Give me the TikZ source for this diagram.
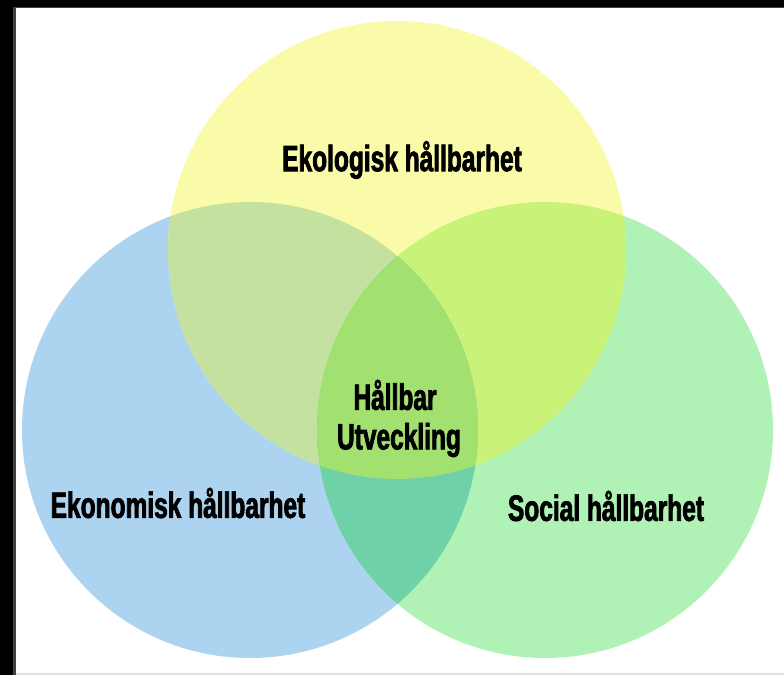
\documentclass[tikz,border=0pt]{standalone}
\usepackage{fontspec}
\usepackage{xcolor}
\usepackage{tikz}
\newfontfamily\vennfont[FakeStretch=0.67,FakeBold=2]{Liberation Sans}
\definecolor{ekogul}{HTML}{FAFBA8}
\definecolor{ekoblå}{HTML}{ACD3EF}
\definecolor{sogrön}{HTML}{B0F2B6}
\definecolor{gulblå}{HTML}{C4E1A0}
\definecolor{gulgrön}{HTML}{C8F278}
\definecolor{blågrön}{HTML}{6FD1A8}
\definecolor{mitten}{HTML}{A2E070}
\def\ekoC{(397,250) circle (229)}
\def\ekonC{(250,430) circle (228)}
\def\socC{(545,430) circle (228)}

\begin{document}
\begin{tikzpicture}[x=0.025cm,y=-0.025cm,
  lbl/.style={text=black,font=\vennfont\bfseries\fontsize{26}{28}\selectfont,align=center}]
\useasboundingbox (0,0) rectangle (784,675);
\fill[white] (0,0) rectangle (784,675);
% frame
\fill[black] (0,0) rectangle (784,7);
\fill[black] (0,0) rectangle (13,675);
\fill[black!75] (13,7) rectangle (16,675);
\fill[black!75] (16,7) rectangle (784,8);
\fill[black!12] (16,673) rectangle (784,675);
% circles
\fill[ekoblå] \ekonC;
\fill[sogrön] \socC;
\fill[ekogul] \ekoC;
\begin{scope}
  \clip \ekonC;
  \fill[gulblå] \ekoC;
\end{scope}
\begin{scope}
  \clip \socC;
  \fill[gulgrön] \ekoC;
\end{scope}
\begin{scope}
  \clip \ekonC;
  \fill[blågrön] \socC;
\end{scope}
\begin{scope}
  \clip \ekonC;
  \clip \socC;
  \fill[mitten] \ekoC;
\end{scope}
% labels
\node[lbl] (eko) at (402,160) {Ekologisk hållbarhet};
\node[lbl] (ekon) at (178,503) {Ekonomisk hållbarhet};
\node[lbl] (soc) at (606,506) {Social hållbarhet};
\node[lbl] (hall) at (395,395) {Hållbar};
\node[lbl] (utv) at (399,440) {Utveckling};
\end{tikzpicture}
\end{document}
